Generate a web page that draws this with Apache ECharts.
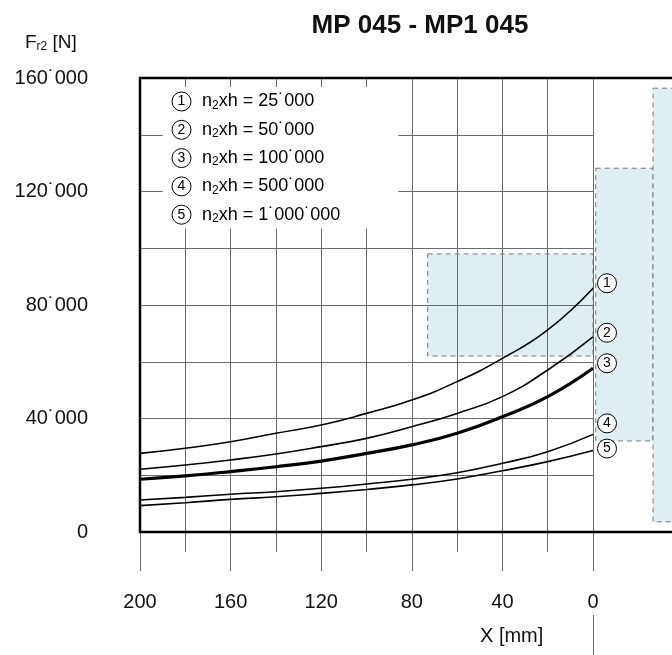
<!DOCTYPE html>
<html><head><meta charset="utf-8">
<script src="https://cdn.jsdelivr.net/npm/echarts@6/dist/echarts.min.js"></script>
<style>html,body{margin:0;padding:0;background:#fff;overflow:hidden}#c{width:700px;height:655px}</style>
</head><body><div id="c"></div>
<script>
// ---- data ----
const xPositions = [200, 180, 160, 140, 120, 100, 80, 60, 40, 20, 0];
const curve1 = [27700, 29500, 31800, 34800, 37700, 41800, 46500, 53000, 61200, 71200, 85900];
const curve2 = [22100, 23600, 25400, 27500, 30100, 33000, 37100, 41800, 47700, 57100, 68800];
const curve3 = [18600, 19800, 21300, 23000, 25000, 27700, 30700, 34800, 40600, 47700, 57700];
const curve4 = [11300, 12200, 13300, 14200, 15400, 16900, 18600, 20900, 24200, 28300, 34400];
const curve5 = [9300, 10300, 11500, 12400, 13600, 15000, 16600, 18700, 21600, 24800, 28700];
const curveIds = ['1', '2', '3', '4', '5'];
const cycleValues = ['25˙000', '50˙000', '100˙000', '500˙000', '1˙000˙000'];

const xTicksMajor = [200, 160, 120, 80, 40, 0];
const xTicksMinor = [180, 140, 100, 60, 20];
const xGridLines = [180, 160, 140, 120, 100, 80, 60, 40, 20, 0];
const yTicksMajor = [0, 40000, 80000, 120000, 160000];
const yTickLabels = ['0', '40˙000', '80˙000', '120˙000', '160˙000'];
const yTicksMinor = [20000, 60000, 100000, 140000];
const yGridLines = [20000, 40000, 60000, 80000, 100000, 120000, 140000];

// shaded zones (x from, x to, y from, y to)
const zoneXFrom = [73, -1.2, -26.5];
const zoneXTo = [0, -26.5, -40];
const zoneYFrom = [62000, 32100, 3600];
const zoneYTo = [98000, 128200, 156400];

// white box behind the legend
const legendBoxX = [190, 86];
const legendBoxY = [107000, 156800];

// ---- styles ----
const FONT = '"Liberation Sans", Arial, sans-serif';
const GRID_COLOR = '#6c6c6c';
const curveWidths = [1.6, 1.6, 3.2, 1.6, 1.6];
const endLabelDy = [-5, -4, -5, -11, -2];

const curves = [curve1, curve2, curve3, curve4, curve5];

const chart = echarts.init(document.getElementById('c'), null, { renderer: 'canvas' });

const curveSeries = curves.map((vals, i) => ({
  name: cycleValues[i],
  type: 'line',
  z: 3,
  smooth: true,
  showSymbol: false,
  silent: true,
  data: xPositions.map((x, k) => [x, vals[k]]),
  lineStyle: { color: '#000', width: curveWidths[i] },
  itemStyle: { color: '#000' },
  markPoint: {
    silent: true,
    symbol: 'circle',
    symbolSize: 19,
    itemStyle: { color: '#fff', borderColor: '#000', borderWidth: 1 },
    label: { show: true, position: 'inside', formatter: curveIds[i], color: '#000', fontSize: 14, fontFamily: FONT },
    data: [{ coord: [xPositions[xPositions.length - 1], vals[vals.length - 1]], symbolOffset: [14, endLabelDy[i]] }]
  }
}));

const gridLineData = [];
yGridLines.forEach(y => gridLineData.push([{ coord: [200, y] }, { coord: [0, y] }]));
xGridLines.forEach(x => gridLineData.push([{ coord: [x, 0] }, { coord: [x, 160000] }]));

const zoneData = zoneXFrom.map((xf, i) => [{ coord: [xf, zoneYTo[i]] }, { coord: [zoneXTo[i], zoneYFrom[i]] }]);

const option = {
  animation: false,
  backgroundColor: '#fff',
  grid: {
    left: 140, top: 78, right: 16.4, bottom: 123,
    show: true, borderColor: '#000', borderWidth: 2.5, z: 10
  },
  xAxis: [
    {
      type: 'value', inverse: true, min: -40, max: 200, position: 'bottom',
      axisLine: { show: false }, splitLine: { show: false },
      axisTick: { show: true, customValues: xTicksMajor, length: 39, lineStyle: { color: GRID_COLOR, width: 1 } },
      axisLabel: { show: true, customValues: xTicksMajor, margin: 60, fontSize: 20, color: '#111', fontFamily: FONT }
    },
    {
      type: 'value', inverse: true, min: -40, max: 200, position: 'bottom',
      axisLine: { show: false }, splitLine: { show: false },
      axisTick: { show: true, customValues: xTicksMinor, length: 20, lineStyle: { color: GRID_COLOR, width: 1 } },
      axisLabel: { show: false }
    }
  ],
  yAxis: [
    {
      type: 'value', min: 0, max: 160000, position: 'left',
      axisLine: { show: false }, splitLine: { show: false },
      axisTick: { show: true, customValues: yTicksMajor, length: 39, lineStyle: { color: GRID_COLOR, width: 1 } },
      axisLabel: {
        show: true, customValues: yTicksMajor, margin: 52, fontSize: 20, color: '#111', fontFamily: FONT,
        formatter: v => yTickLabels[yTicksMajor.indexOf(v)]
      }
    },
    {
      type: 'value', min: 0, max: 160000, position: 'left',
      axisLine: { show: false }, splitLine: { show: false },
      axisTick: { show: true, customValues: yTicksMinor, length: 19, lineStyle: { color: GRID_COLOR, width: 1 } },
      axisLabel: { show: false }
    }
  ],
  legend: {
    show: true,
    data: cycleValues,
    orient: 'vertical',
    left: 167, top: 91.5,
    padding: 0,
    itemGap: 8.3,
    itemWidth: 0, itemHeight: 0,
    icon: 'none',
    selectedMode: false,
    z: 20,
    textStyle: { fontSize: 18, lineHeight: 20, color: '#000', fontFamily: FONT,
      rich: {
        c: { width: 19, height: 19, lineHeight: 19, borderRadius: 10, borderColor: '#000', borderWidth: 1, align: 'center', fontSize: 14, color: '#000', fontFamily: FONT },
        n: { fontSize: 18, lineHeight: 20, color: '#000', padding: [0, 0, 0, 11], fontFamily: FONT },
        t: { fontSize: 18, lineHeight: 20, color: '#000', fontFamily: FONT },
        s: { fontSize: 12, lineHeight: 12, verticalAlign: 'bottom', color: '#000', fontFamily: FONT }
      }
    },
    formatter: name => {
      const i = cycleValues.indexOf(name);
      return '{c|' + curveIds[i] + '}{n|n}{s|2}{t|xh = ' + cycleValues[i] + '}';
    }
  },
  series: [
    {
      name: 'zones', type: 'line', data: [], silent: true, z: 1,
      markArea: {
        z: 1, silent: true,
        itemStyle: { color: '#deeef3', borderColor: '#7a7a7a', borderWidth: 1, borderType: [5, 4] },
        label: { show: false },
        data: zoneData
      }
    },
    {
      name: 'grid', type: 'line', data: [], silent: true, z: 1,
      markLine: {
        z: 1.5, silent: true, symbol: ['none', 'none'],
        label: { show: false },
        lineStyle: { color: GRID_COLOR, width: 1, type: 'solid' },
        data: gridLineData
      }
    },
    {
      name: 'legendBox', type: 'line', data: [], silent: true, z: 1,
      markArea: {
        z: 1.8, silent: true,
        itemStyle: { color: '#fff', borderWidth: 0 },
        label: { show: false },
        data: [[{ coord: [legendBoxX[0], legendBoxY[1]] }, { coord: [legendBoxX[1], legendBoxY[0]] }]]
      }
    }
  ].concat(curveSeries),
  graphic: [
    { type: 'text', x: 420, y: 26, z: 30,
      style: { text: 'MP 045 - MP1 045', fill: '#111', font: 'bold 26px ' + FONT, align: 'center', verticalAlign: 'middle', textAlign: 'center', textVerticalAlign: 'middle' } },
    { type: 'text', x: 25, y: 43, z: 30,
      style: { text: 'F{s|r2} [N]', fill: '#111', font: '19px ' + FONT, align: 'left', verticalAlign: 'middle', textAlign: 'left', textVerticalAlign: 'middle',
        rich: { s: { fontSize: 12, lineHeight: 12, verticalAlign: 'bottom', fill: '#111', fontFamily: FONT } } } },
    { type: 'text', x: 480, y: 636, z: 30,
      style: { text: 'X [mm]', fill: '#111', font: '20px ' + FONT, align: 'left', verticalAlign: 'middle', textAlign: 'left', textVerticalAlign: 'middle' } },
    { type: 'line', z: 30, shape: { x1: 593.5, y1: 615, x2: 593.5, y2: 655 }, style: { stroke: GRID_COLOR, lineWidth: 1 } }
  ]
};
chart.setOption(option);
</script>
</body></html>
